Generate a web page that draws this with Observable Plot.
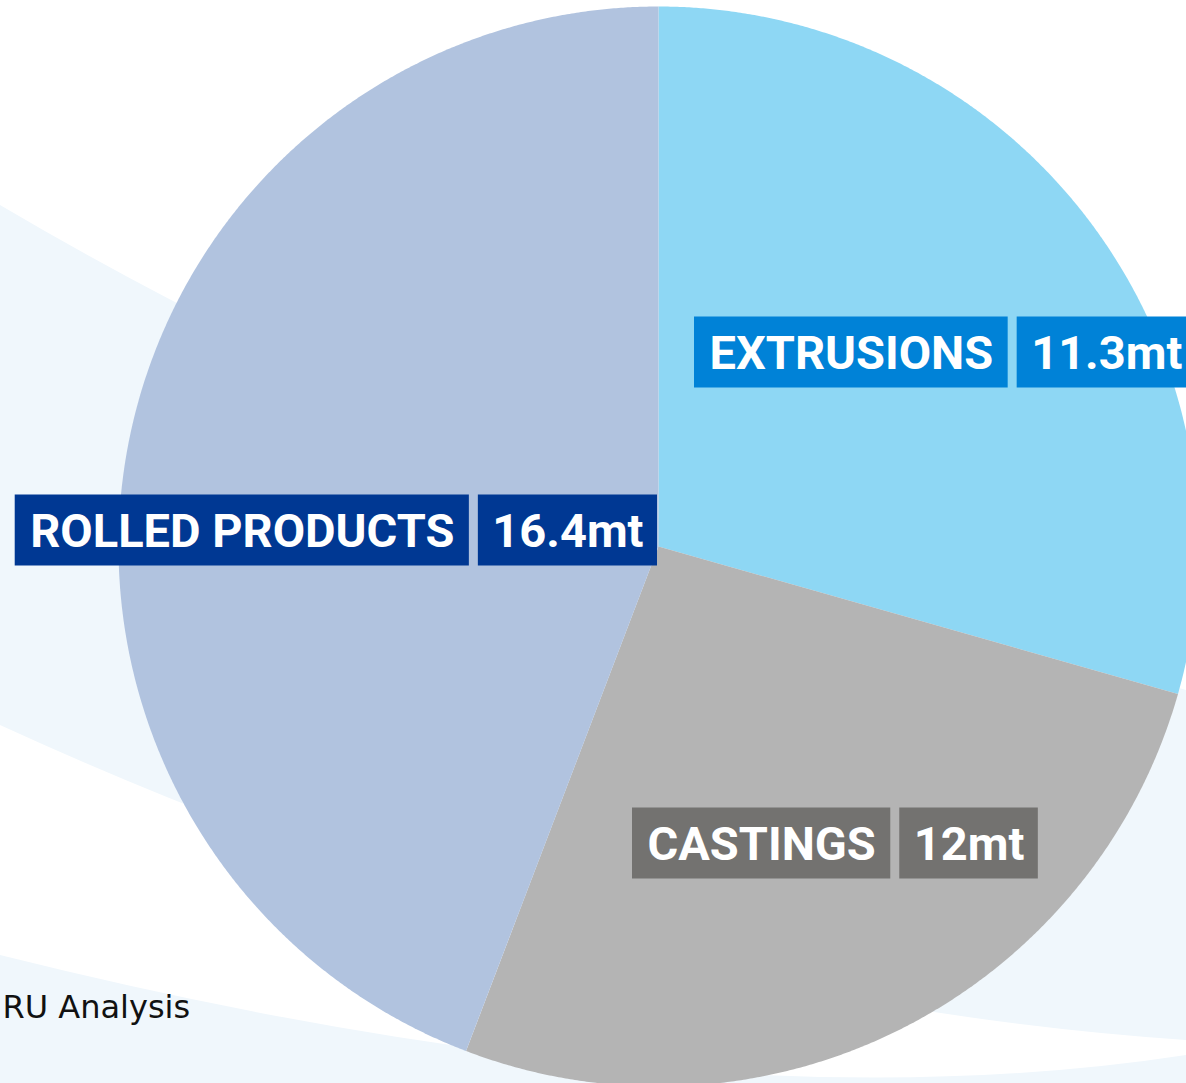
<!DOCTYPE html>
<html><head><meta charset="utf-8">
<script src="https://cdn.jsdelivr.net/npm/d3@7"></script>
<script src="https://cdn.jsdelivr.net/npm/@observablehq/plot@0.6"></script>
<style>
html,body{margin:0;padding:0;background:#fff;overflow:hidden}
#wrap{position:relative;width:1186px;height:1083px;overflow:hidden}
#bg{position:absolute;left:0;top:0}
#chart{position:absolute;left:0;top:0}
</style></head><body>
<div id="wrap">
<svg id="bg" width="1186" height="1083">
 <path d="M0,205 Q500,500 1186,690 L1186,1040 Q600,1000 0,725 Z" fill="#F0F7FC"/>
 <path d="M0,955 Q700,1130 1186,1055 L1186,1083 L0,1083 Z" fill="#F0F7FC"/>
</svg>
<div id="chart"></div>
</div>
<script>
// ---- data ----
const categories = ["EXTRUSIONS", "CASTINGS", "ROLLED PRODUCTS"];
const values = [11.3, 12, 16.4];               // labelled tonnages (mt)
const valueLabels = ["11.3mt", "12mt", "16.4mt"];
const sliceShares = [29.4, 26.4, 44.2];        // share of the circle as drawn in the picture (%)
const caption = "RU Analysis";

// ---- styles / layout ----
const sliceColors = ["#8ED7F4", "#B4B4B4", "#B1C3DF"];
const boxColors = ["#0082D7", "#737270", "#003893"];
const W = 1186, H = 1083;
const cx = 658, cy = 546, R = 540;
const labelLayout = [
  {x: 694, y: 352, align: "left"},
  {x: 632, y: 843, align: "left"},
  {x: 657, y: 530, align: "right"}
];
const labelFamily = "Roboto", labelSize = 47;
const pad = 15, padV = 14, gap = 9, boxH = 71;

// ---- pie geometry from data ----
const arcs = d3.pie().sort(null).value(d => d)(sliceShares);
const slices = arcs.map((a, i) => {
  const pts = [{x: cx, y: cy}];
  const n = Math.max(2, Math.ceil((a.endAngle - a.startAngle) / (Math.PI / 720)));
  for (let k = 0; k <= n; k++) {
    const t = a.startAngle + (a.endAngle - a.startAngle) * k / n;
    pts.push({x: cx + R * Math.sin(t), y: cy - R * Math.cos(t)});
  }
  pts.push({x: cx, y: cy});
  return pts;
});

// ---- label boxes ----
const ctx = document.createElement("canvas").getContext("2d");
ctx.font = `bold ${labelSize}px ${labelFamily}`;
const boxes = [], texts = [];
categories.forEach((c, i) => {
  const L = labelLayout[i];
  const wn = ctx.measureText(c).width + 2 * pad;
  const wv = ctx.measureText(valueLabels[i]).width + 2 * padV;
  const x0 = L.align === "left" ? L.x : L.x - wv - gap - wn;
  boxes.push({x1: x0, x2: x0 + wn, y1: L.y - boxH / 2, y2: L.y + boxH / 2, fill: boxColors[i]});
  texts.push({x: x0 + pad, y: L.y + 1, t: c});
  const x1 = x0 + wn + gap;
  boxes.push({x1: x1, x2: x1 + wv, y1: L.y - boxH / 2, y2: L.y + boxH / 2, fill: boxColors[i]});
  texts.push({x: x1 + padV, y: L.y + 1, t: valueLabels[i]});
});

const chart = Plot.plot({
  width: W, height: H, margin: 0,
  x: {domain: [0, W], range: [0, W], axis: null},
  y: {domain: [0, H], range: [0, H], axis: null},
  style: {background: "transparent", overflow: "hidden"},
  marks: [
    ...slices.map((pts, i) => Plot.line(pts, {x: "x", y: "y", fill: sliceColors[i], stroke: "none", curve: "linear"})),
    Plot.rect(boxes, {x1: "x1", x2: "x2", y1: "y1", y2: "y2", fill: d => d.fill}),
    Plot.text(texts, {x: "x", y: "y", text: "t", fill: "white", fontSize: labelSize, fontWeight: "bold", fontFamily: labelFamily, textAnchor: "start"}),
    Plot.text([caption], {x: () => 2, y: () => 1007, text: d => d, fill: "#111", fontSize: 32, fontFamily: "DejaVu Sans", textAnchor: "start"})
  ]
});
document.getElementById("chart").appendChild(chart);
</script>
</body></html>
